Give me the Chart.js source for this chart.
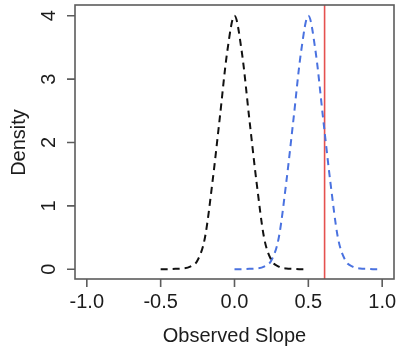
<!DOCTYPE html>
<html>
<head>
<meta charset="utf-8">
<script src="https://cdn.jsdelivr.net/npm/chart.js@4/dist/chart.umd.min.js"></script>
<style>
  html, body { margin: 0; padding: 0; background: #fff; }
  #wrap { width: 398px; height: 346px; }
</style>
</head>
<body>
<div id="wrap"><canvas id="slope-chart" width="398" height="346"></canvas></div>
<script>
// Null distribution (black)
const nullSlopes = [-0.5, -0.45, -0.4, -0.35, -0.3, -0.25, -0.2, -0.15, -0.1, -0.05, 0, 0.05, 0.1, 0.15, 0.2, 0.25, 0.3, 0.35, 0.4, 0.45, 0.5];
const nullDensity = [0, 0, 0.005, 0.01, 0.04, 0.14, 0.5, 1.36, 2.38, 3.42, 4.0, 3.42, 2.38, 1.36, 0.5, 0.14, 0.04, 0.01, 0.005, 0, 0];

// Alternative distribution (blue)
const altSlopes = [0, 0.05, 0.1, 0.15, 0.2, 0.25, 0.3, 0.35, 0.4, 0.45, 0.5, 0.55, 0.6, 0.65, 0.7, 0.75, 0.8, 0.85, 0.9, 0.95, 0.97];
const altDensity = [0, 0, 0.005, 0.01, 0.04, 0.14, 0.5, 1.36, 2.38, 3.42, 4.0, 3.42, 2.38, 1.36, 0.5, 0.14, 0.04, 0.01, 0.005, 0, 0];

// Observed slope (red line)
const observedSlope = 0.61;

const xTicks = [-1.0, -0.5, 0.0, 0.5, 1.0];
const yTicks = [0, 1, 2, 3, 4];

const X_MIN = -1.08, X_MAX = 1.08;
const Y_MIN = -0.155, Y_MAX = 4.17;

const FONT = '"Liberation Sans", Arial, Helvetica, sans-serif';

function toPoints(xs, ys) {
    return xs.map((x, i) => ({ x: x, y: ys[i] }));
}

// R-style box, ticks and labels
const rAxesPlugin = {
    id: 'rAxes',
    afterDraw(chart) {
        const ctx = chart.ctx;
        const area = chart.chartArea;
        const xs = chart.scales.x;
        const ys = chart.scales.y;

        ctx.save();
        ctx.strokeStyle = '#5c5c5c';
        ctx.lineWidth = 1.6;
        ctx.strokeRect(area.left, area.top, area.right - area.left, area.bottom - area.top);

        // x ticks
        ctx.beginPath();
        xTicks.forEach(v => {
            const px = xs.getPixelForValue(v);
            ctx.moveTo(px, area.bottom);
            ctx.lineTo(px, area.bottom + 8);
        });
        // y ticks
        yTicks.forEach(v => {
            const py = ys.getPixelForValue(v);
            ctx.moveTo(area.left, py);
            ctx.lineTo(area.left - 8, py);
        });
        ctx.stroke();

        ctx.fillStyle = '#1c1c1c';
        ctx.font = '20px ' + FONT;
        ctx.textAlign = 'center';
        ctx.textBaseline = 'alphabetic';
        xTicks.forEach(v => {
            ctx.fillText(v.toFixed(1), xs.getPixelForValue(v), 308);
        });

        yTicks.forEach(v => {
            ctx.save();
            ctx.translate(54.5, ys.getPixelForValue(v));
            ctx.rotate(-Math.PI / 2);
            ctx.fillText(String(v), 0, 0);
            ctx.restore();
        });

        // axis titles
        ctx.fillText('Observed Slope', (area.left + area.right) / 2, 341.5);
        ctx.save();
        ctx.translate(24.5, (ys.getPixelForValue(0) + ys.getPixelForValue(4)) / 2);
        ctx.rotate(-Math.PI / 2);
        ctx.fillText('Density', 0, 0);
        ctx.restore();

        ctx.restore();
    }
};

const ctx = document.getElementById('slope-chart').getContext('2d');
new Chart(ctx, {
    type: 'line',
    data: {
        datasets: [
            {
                label: 'Null',
                data: toPoints(nullSlopes, nullDensity),
                borderColor: '#111111',
                borderWidth: 2,
                borderDash: [7, 5],
                pointRadius: 0,
                cubicInterpolationMode: 'monotone',
                fill: false
            },
            {
                label: 'Alternative',
                data: toPoints(altSlopes, altDensity),
                borderColor: '#4a72e0',
                borderWidth: 2,
                borderDash: [7, 5],
                pointRadius: 0,
                cubicInterpolationMode: 'monotone',
                fill: false
            },
            {
                label: 'Observed',
                data: [{ x: observedSlope, y: Y_MIN }, { x: observedSlope, y: Y_MAX }],
                borderColor: '#e5514f',
                borderWidth: 1.6,
                pointRadius: 0,
                fill: false
            }
        ]
    },
    options: {
        responsive: false,
        animation: false,
        events: [],
        layout: { padding: { left: 75, top: 5, right: 4, bottom: 67 } },
        plugins: {
            legend: { display: false },
            tooltip: { enabled: false }
        },
        scales: {
            x: { type: 'linear', min: X_MIN, max: X_MAX, display: false },
            y: { type: 'linear', min: Y_MIN, max: Y_MAX, display: false }
        }
    },
    plugins: [rAxesPlugin]
});
</script>
</body>
</html>
